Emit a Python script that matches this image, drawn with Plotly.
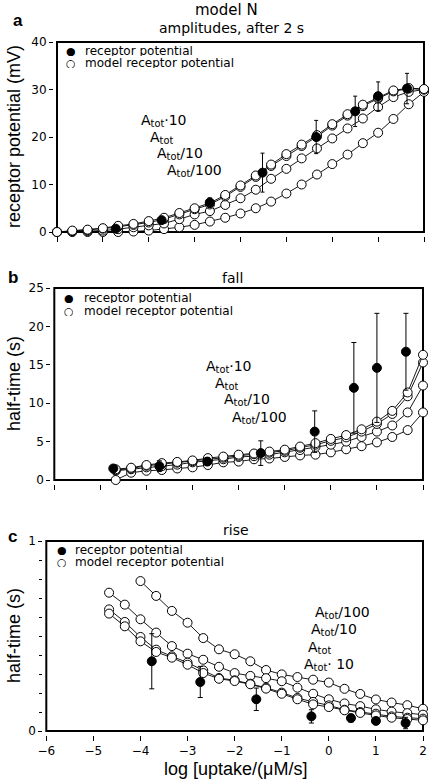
import plotly.graph_objects as go

# ---------------- data ----------------
# panel a: amplitudes after 2 s (mV)
xa_model = [-6, -5.667, -5.333, -5, -4.667, -4.333, -4, -3.667, -3.333, -3, -2.667, -2.333,
            -2, -1.667, -1.333, -1, -0.667, -0.333, 0, 0.333, 0.667, 1, 1.333, 1.667, 2]
a_tot10 = [0, 0.3, 0.5, 0.8, 1.3, 1.7, 2.3, 3.0, 4.0, 5.0, 6.1, 7.8, 9.8, 11.9, 14.2, 16.4,
           18.4, 20.4, 22.7, 24.8, 26.8, 28.3, 29.8, 30.3, 30.1]
a_tot = [0, 0.2, 0.4, 0.7, 1.1, 1.5, 2.0, 2.7, 3.7, 4.8, 5.8, 7.5, 9.5, 11.6, 13.9, 16.0,
         18.1, 20.1, 22.4, 24.5, 26.5, 28.1, 29.6, 30.2, 30.0]
a_tot_10 = [0, 0.1, 0.2, 0.3, 0.6, 1.0, 1.4, 1.8, 2.7, 3.7, 4.4, 5.7, 7.1, 8.9, 11.2, 13.3,
            15.5, 17.6, 19.7, 21.8, 23.9, 26.3, 28.4, 29.5, 30.0]
a_tot_100 = [0, 0, 0, 0, 0, 0.1, 0.3, 0.6, 1.0, 1.5, 2.2, 3.0, 3.9, 5.0, 6.4, 8.1, 10.0,
             12.1, 14.3, 16.3, 18.7, 20.9, 23.8, 26.9, 29.5]
a_exp_x = [-4.72, -3.72, -2.67, -1.52, -0.35, 0.5, 1.0, 1.63]
a_exp_y = [0.7, 2.5, 6.2, 12.5, 20.0, 25.4, 28.6, 30.2]
a_exp_err = [0.3, 0.6, 1.0, 4.1, 3.5, 3.2, 3.0, 3.2]

# panel b: fall half-time (s)
xb_model = [-4.667, -4.333, -4, -3.667, -3.333, -3, -2.667, -2.333, -2, -1.667, -1.333,
            -1, -0.667, -0.333, 0, 0.333, 0.667, 1, 1.333, 1.667, 2]
b_tot10 = [1.4, 1.6, 1.95, 2.2, 2.35, 2.55, 2.85, 3.05, 3.3, 3.45, 3.7, 3.95, 4.35, 4.8,
           5.35, 5.85, 6.6, 7.6, 9.0, 11.4, 16.3]
b_tot = [1.3, 1.5, 1.85, 2.05, 2.25, 2.45, 2.7, 2.9, 3.15, 3.35, 3.55, 3.8, 4.2, 4.6,
         5.1, 5.55, 6.3, 7.3, 8.6, 10.9, 15.3]
b_tot_10 = [1.2, 1.4, 1.65, 1.8, 2.0, 2.3, 2.5, 2.7, 3.0, 3.1, 3.3, 3.6, 3.9, 4.3, 4.6,
            5.0, 5.6, 6.3, 7.1, 8.8, 12.3]
b_tot_100 = [0.0, 0.95, 1.2, 1.3, 1.5, 1.65, 1.95, 2.3, 2.4, 2.7, 2.8, 3.0, 3.2, 3.3, 3.6,
             4.0, 4.4, 4.9, 5.6, 6.5, 8.8]
b_exp_x = [-4.72, -3.72, -2.68, -1.52, -0.35, 0.5, 1.0, 1.63]
b_exp_y = [1.5, 1.8, 2.4, 3.5, 6.3, 12.0, 14.6, 16.7]
b_exp_err = [0.2, 0.7, 0.5, 1.6, 2.7, 5.9, 7.1, 5.0]

# panel c: rise half-time (s)
xc_model = xb_model
xc_model_100 = xb_model[2:]
c_tot_100 = [0.789, 0.711, 0.632, 0.570, 0.489, 0.430, 0.404, 0.367, 0.321, 0.298, 0.284,
             0.270, 0.255, 0.222, 0.195, 0.166, 0.150, 0.136, 0.117]
c_tot_10 = [0.728, 0.665, 0.588, 0.518, 0.447, 0.407, 0.375, 0.338, 0.305, 0.290, 0.278,
            0.262, 0.228, 0.196, 0.167, 0.145, 0.131, 0.114, 0.102, 0.094, 0.086]
c_tot = [0.640, 0.574, 0.495, 0.428, 0.393, 0.360, 0.319, 0.279, 0.267, 0.249, 0.228,
         0.202, 0.174, 0.153, 0.135, 0.112, 0.100, 0.091, 0.077, 0.070, 0.065]
c_tot10 = [0.618, 0.551, 0.472, 0.416, 0.386, 0.349, 0.305, 0.275, 0.263, 0.246, 0.223,
           0.196, 0.167, 0.140, 0.126, 0.109, 0.095, 0.082, 0.070, 0.063, 0.056]
c_exp_x = [-3.76, -2.73, -1.54, -0.37, 0.47, 1.0, 1.63]
c_exp_y = [0.367, 0.258, 0.167, 0.077, 0.068, 0.053, 0.042]
c_exp_err = [0.145, 0.082, 0.059, 0.035, 0.02, 0.012, 0.03]

x_ticks = [-6, -5, -4, -3, -2, -1, 0, 1, 2]
a_yticks = [0, 10, 20, 30, 40]
b_yticks = [0, 5, 10, 15, 20, 25]
c_yticks = [0, 1]
c_minor_dtick = 0.1

# ---------------- figure ----------------
W, H = 429, 780
def px(x):
    return x / W
def py(y):
    return 1 - y / H

FONT = "DejaVu Sans"
FONT2 = "Liberation Sans"

fig = go.Figure()

def model_trace(x, y, xa, ya):
    fig.add_trace(go.Scatter(
        x=x, y=y, xaxis=xa, yaxis=ya, mode="lines+markers",
        line=dict(color="black", width=0.9),
        marker=dict(symbol="circle", size=9, color="white",
                    line=dict(color="black", width=1)),
        cliponaxis=False, showlegend=False, hoverinfo="x+y"))

def exp_trace(x, y, err, xa, ya, cap):
    fig.add_trace(go.Scatter(
        x=x, y=y, xaxis=xa, yaxis=ya, mode="markers",
        marker=dict(symbol="circle", size=9, color="black",
                    line=dict(color="black", width=1)),
        error_y=dict(type="data", array=err, color="black", thickness=1, width=cap),
        cliponaxis=False, showlegend=False, hoverinfo="x+y"))

for series in [a_tot_100, a_tot_10, a_tot, a_tot10]:
    model_trace(xa_model, series, "x", "y")
exp_trace(a_exp_x, a_exp_y, a_exp_err, "x", "y", 2)

for series in [b_tot_100, b_tot_10, b_tot, b_tot10]:
    model_trace(xb_model, series, "x2", "y2")
exp_trace(b_exp_x, b_exp_y, b_exp_err, "x2", "y2", 2.5)

model_trace(xc_model_100, c_tot_100, "x3", "y3")
for series in [c_tot_10, c_tot, c_tot10]:
    model_trace(xc_model, series, "x3", "y3")
exp_trace(c_exp_x, c_exp_y, c_exp_err, "x3", "y3", 2.5)

# panel boxes (page-pixel extents)
panels = {
    "a": dict(l=57, r=424, t=42, b=232),
    "b": dict(l=54.3, r=423, t=288, b=480),
    "c": dict(l=46.3, r=423, t=541, b=731),
}

def xaxis_cfg(p, labels):
    return dict(domain=[px(p["l"]), px(p["r"])], range=[-6, 2], anchor="free",
                position=py(p["b"] + 4), showline=False, showgrid=False, zeroline=False,
                automargin=False,
                ticks="outside", ticklen=5, tickwidth=1, tickcolor="black",
                tickvals=x_ticks, showticklabels=labels,
                tickfont=dict(family=FONT, size=12, color="black"))

def yaxis_cfg(p, rng, tv, minor=None):
    d = dict(domain=[py(p["b"]), py(p["t"])], range=rng, anchor="free",
             position=px(p["l"] - 4), showline=False, showgrid=False, zeroline=False,
             automargin=False,
             ticks="outside", ticklen=4, tickwidth=1, tickcolor="black",
             tickvals=tv, tickfont=dict(family=FONT, size=12, color="black"))
    if minor is not None:
        d["minor"] = dict(ticks="outside", dtick=minor, ticklen=3, tickwidth=1,
                          tickcolor="black", showgrid=False)
    return d

fig.update_layout(
    width=W, height=H, margin=dict(l=0, r=0, t=0, b=0, autoexpand=False),
    paper_bgcolor="white", plot_bgcolor="white", showlegend=False,
    xaxis=xaxis_cfg(panels["a"], False),
    xaxis2=xaxis_cfg(panels["b"], False),
    xaxis3=xaxis_cfg(panels["c"], True),
    yaxis=yaxis_cfg(panels["a"], [0, 40], a_yticks),
    yaxis2=yaxis_cfg(panels["b"], [0, 25], b_yticks),
    yaxis3=yaxis_cfg(panels["c"], [0, 1], c_yticks, c_minor_dtick),
)

for xr, yr in [("x", "y"), ("x2", "y2"), ("x3", "y3")]:
    fig.add_shape(type="rect", xref=xr + " domain", yref=yr + " domain",
                  x0=0, x1=1, y0=0, y1=1, line=dict(color="black", width=2),
                  layer="below")

ann = []
def text(x, y, s, size=14, family=FONT, xanchor="center", angle=0, bold=False, h=None):
    if bold:
        s = "<b>" + s + "</b>"
    a = dict(x=px(x), y=py(y), xref="paper", yref="paper", text=s,
             showarrow=False, xanchor=xanchor, yanchor="middle",
             textangle=angle, font=dict(family=family, size=size, color="black"))
    if h is not None:
        a["height"] = h
    ann.append(a)

# titles
text(226, 10, "model N", 15)
text(231, 28, "amplitudes, after 2 s", 14)
text(232, 278, "fall", 14)
text(236, 530, "rise", 14)
text(18, 20, "a", 17, FONT2, bold=True)
text(13, 277, "b", 17, FONT2, bold=True)
text(12, 536, "c", 17, FONT2, bold=True)

# axis titles
text(14, 137, "receptor potential (mV)", 18, FONT2, angle=-90)
text(14, 384, "half-time (s)", 18, FONT2, angle=-90)
text(14, 636, "half-time (s)", 18, FONT2, angle=-90)
text(235, 769, "log [uptake/(\u03bcM/s]", 18, FONT2)

# legends
for (mx, tx, y1, y2) in [(70.5, 83, 51, 62.5), (69, 82, 298, 311), (61.5, 73, 550, 562)]:
    text(mx, y1, "\u25cf", 11, h=10)
    text(mx, y2, "\u25cb", 11, h=10)
    text(tx, y1, "receptor potential", 12, xanchor="left", h=10)
    text(tx, y2, "model receptor potential", 12, xanchor="left", h=10)

# model labels
sub = "A<sub>tot</sub>"
for (x, y, s) in [(139, 120, sub + "\u00b710"), (148, 137, sub), (155, 154, sub + "/10"),
                  (165, 170, sub + "/100"),
                  (204, 366, sub + "\u00b710"), (213, 383, sub), (222, 400, sub + "/10"),
                  (230, 417, sub + "/100"),
                  (313, 612, sub + "/100"), (309, 629, sub + "/10"), (306, 647, sub),
                  (302, 664, sub + "\u00b7 10")]:
    text(x, y, s, 14, xanchor="left", h=15)

fig.update_layout(annotations=ann)
# remove the browser's default 8 px body margin so the figure fills the window
fig.write_html("out.html",
               config={"displayModeBar": False},
               post_script="document.body.style.margin='0px';document.body.style.overflow='hidden';")
